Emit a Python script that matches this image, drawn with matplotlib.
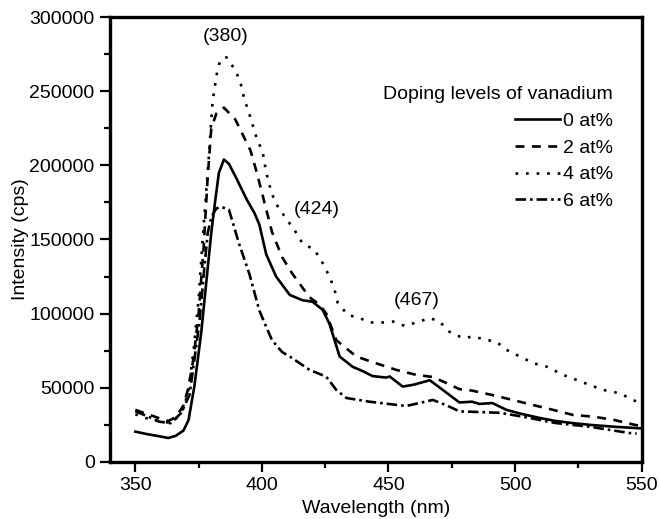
import matplotlib
matplotlib.use("Agg")
import matplotlib.pyplot as plt
from matplotlib.ticker import MultipleLocator
import numpy as np

plt.rcParams['font.family'] = ['Liberation Sans', 'DejaVu Sans']

# ---- data ----
wl_0 = [350, 355, 360, 363, 366, 369, 371, 373.3, 376, 378, 380, 381.6, 383, 385, 387, 390, 394, 397,
        399, 401.7, 405.6, 411, 416, 420, 424, 426.7, 430.7, 435.9, 440, 443.7, 449, 450.5, 455.6, 460,
        466.3, 471.5, 478, 483, 486, 491, 496.6, 502, 509.8, 516, 523, 530, 540, 550]
int_0 = [20300, 18500, 17000, 16000, 17500, 21000, 28000, 50700, 86800, 120700, 154500, 176800, 195000,
         204000, 201000, 191000, 177000, 168000, 160000, 140000, 125000, 112600, 109000, 108000, 102500,
         93000, 71000, 64000, 61000, 57800, 56800, 57500, 50700, 52000, 55000, 48400, 40000, 40500, 39000,
         39600, 35000, 32500, 29500, 27500, 26000, 24800, 23500, 22500]

wl_2 = [350, 355, 360, 363, 366, 369, 371, 373, 375, 377, 378.5, 380, 382, 385, 389.5, 395.5, 398, 401,
        404, 408, 412, 418.8, 422.8, 425.4, 429.4, 437.3, 445, 453, 461, 467.5, 473, 478, 483, 491, 499,
        507, 515, 523, 531, 539, 547, 550]
int_2 = [35000, 32000, 29000, 27500, 30000, 38000, 50000, 70000, 100000, 145000, 190000, 225000, 235000,
         239000, 231000, 210000, 195000, 175000, 155000, 138000, 127000, 111000, 106000, 100000, 82000,
         71000, 66500, 62000, 58600, 57200, 53000, 49000, 48000, 45000, 41700, 38300, 35000, 31500, 30400,
         28200, 25000, 24000]

wl_4 = [350, 355, 360, 363, 366, 369, 371, 373, 375, 377, 379, 380.5, 382.2, 383.5, 386, 389.8, 391.8,
        393, 394.8, 396.4, 398, 400.3, 401.6, 403.7, 405.6, 409, 413, 416, 420.8, 424, 426.7, 428.7, 430,
        434, 438.6, 442.5, 447.8, 451.8, 456.4, 461, 466.3, 470.2, 474, 479.4, 483.4, 488.7, 492.6, 496.6,
        501.9, 507.2, 512.4, 519, 524.3, 529.5, 534.8, 538.8, 542.7, 548]
int_4 = [32000, 29000, 27000, 26500, 29000, 36000, 48000, 75000, 110000, 160000, 205000, 243000, 262000,
         271000, 273000, 263500, 254000, 245000, 236000, 227000, 218000, 209000, 196000, 182000, 174000,
         165500, 156000, 147500, 143000, 134000, 125000, 116000, 107000, 99000, 97000, 94000, 94000, 94600,
         91700, 94000, 97000, 94600, 87800, 83400, 84500, 82200, 81000, 75500, 71000, 66500, 64200, 58600,
         55200, 51800, 48400, 47300, 45000, 40500]

wl_6 = [350, 355, 359.5, 364, 368, 371.4, 373.3, 375.3, 377.3, 378.6, 380, 382, 384, 387, 391, 395, 399,
        401.7, 404, 408, 411, 418.8, 425.4, 429.4, 433.4, 442.5, 457, 467.5, 473, 478, 494, 503, 516,
        529.5, 545, 548]
int_6 = [34000, 30500, 27000, 26000, 32700, 45000, 68700, 93700, 131800, 154500, 165000, 171000, 172000,
         170000, 147000, 127000, 102000, 91000, 82000, 74000, 71000, 62000, 57400, 48400, 43000, 40500,
         37600, 41700, 38000, 34000, 33000, 30400, 26100, 23600, 19400, 19000]

labels = ["0 at%", "2 at%", "4 at%", "6 at%"]
legend_title = "Doping levels of vanadium"
peak_labels = ["(380)", "(424)", "(467)"]
peak_pos_x = [385.5, 421.8, 461.3]
peak_pos_y = [287000, 170000, 109000]

# ---- figure ----
fs = 14
fig = plt.figure(figsize=(6.6, 5.19), dpi=100)
ax = fig.add_axes([0.1667, 0.1104, 0.8055, 0.8563])

lw = 1.9
ax.plot(wl_0, int_0, color='black', lw=lw, linestyle='-', label=labels[0])
ax.plot(wl_2, int_2, color='black', lw=lw, linestyle=(0, (3.4, 2.8)), label=labels[1])
ax.plot(wl_4, int_4, color='black', lw=lw, linestyle=(0, (1, 3)), label=labels[2])
ax.plot(wl_6, int_6, color='black', lw=lw, linestyle=(0, (4, 1.5, 1, 1.5)), label=labels[3])

for t, x, y in zip(peak_labels, peak_pos_x, peak_pos_y):
    ax.text(x, y, t, ha='center', va='center', fontsize=fs)

ax.set_xlim(340, 550)
ax.set_ylim(0, 300000)
ax.xaxis.set_major_locator(MultipleLocator(50))
ax.xaxis.set_minor_locator(MultipleLocator(25))
ax.yaxis.set_major_locator(MultipleLocator(50000))
ax.yaxis.set_minor_locator(MultipleLocator(25000))
ax.set_xticks([350, 400, 450, 500, 550])
ax.tick_params(which='major', direction='out', length=7, width=1.6, labelsize=fs, pad=4)
ax.tick_params(which='minor', direction='out', length=4, width=1.6)
ax.tick_params(top=False, right=False, which='both')
for s in ax.spines.values():
    s.set_linewidth(2.4)

ax.set_xlabel("Wavelength (nm)", fontsize=fs, labelpad=4.5)
ax.set_ylabel("Intensity (cps)", fontsize=fs, labelpad=0)

leg = ax.legend(title=legend_title, loc='upper right', bbox_to_anchor=(0.946, 0.845),
                frameon=False, fontsize=fs, title_fontsize=fs, handlelength=2.3,
                handletextpad=0.15, borderpad=0, borderaxespad=0, labelspacing=0.47,
                alignment='right')

fig.savefig("out.png", dpi=100)
